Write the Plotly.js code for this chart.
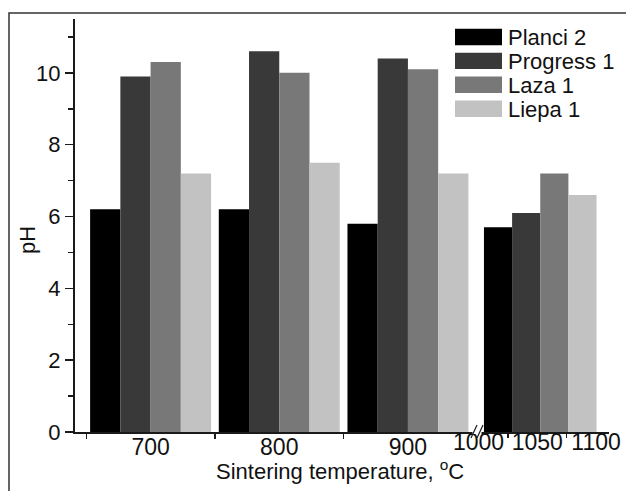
<!DOCTYPE html>
<html>
<head>
<meta charset="utf-8">
<script src="https://cdn.plot.ly/plotly-3.0.1.min.js"></script>
<style>html,body{margin:0;padding:0;background:#fff;}#chart{width:626px;height:491px;}</style>
</head>
<body>
<div id="chart"></div>
<script>
// ---- data ----
const temperatures = ['700', '800', '900', '1050'];
const rightTickLabels = ['1000', '1050', '1100'];
const seriesNames = ['Planci 2', 'Progress 1', 'Laza 1', 'Liepa 1'];
const planci2   = [6.2, 6.2, 5.8, 5.7];
const progress1 = [9.9, 10.6, 10.4, 6.1];
const laza1     = [10.3, 10.0, 10.1, 7.2];
const liepa1    = [7.2, 7.5, 7.2, 6.6];
const seriesColors = ['#000000', '#393939', '#787878', '#c2c2c2'];
const xTitle = 'Sintering temperature, <sup>o</sup>C';
const yTitle = 'pH';

const allSeries = [planci2, progress1, laza1, liepa1];
const FONT = 'Liberation Sans, Arial, sans-serif';
const AX = '#1a1a1a';
const TXT = '#111';

const traces = [];
allSeries.forEach((vals, i) => {
  // before the axis break
  traces.push({
    type: 'bar', name: seriesNames[i], legendgroup: seriesNames[i], showlegend: false,
    x: temperatures.slice(0, 3), y: vals.slice(0, 3),
    xaxis: 'x', yaxis: 'y',
    marker: {color: seriesColors[i], line: {width: 0}},
    hoverinfo: 'x+y+name'
  });
});
allSeries.forEach((vals, i) => {
  // after the axis break
  traces.push({
    type: 'bar', name: seriesNames[i], legendgroup: seriesNames[i], showlegend: false,
    x: temperatures.slice(3), y: vals.slice(3),
    xaxis: 'x2', yaxis: 'y',
    marker: {color: seriesColors[i], line: {width: 0}},
    hoverinfo: 'x+y+name'
  });
});
// carrier for the tick labels of the broken part of the axis (invisible)
traces.push({
  type: 'scatter', mode: 'markers', x: rightTickLabels, y: [0, 0, 0],
  xaxis: 'x3', yaxis: 'y', marker: {opacity: 0}, hoverinfo: 'skip', showlegend: false
});

const dL = 0.7425;
const L = 75, R = 609, T = 19, B = 432;
const px = v => (v - L) / (R - L);
const py = v => (B - v) / (B - T);

// legend (drawn from seriesNames / seriesColors)
const legShapes = [], legAnn = [];
seriesNames.forEach((nm, i) => {
  const cy = 37 + 23.9 * i;
  legShapes.push({type: 'rect', xref: 'paper', yref: 'paper',
    x0: px(455), x1: px(502), y0: py(cy + 8.2), y1: py(cy - 8.2),
    line: {width: 0}, fillcolor: seriesColors[i], layer: 'above'});
  legAnn.push({xref: 'paper', yref: 'paper', x: px(506), y: py(cy + 0.5),
    xanchor: 'left', yanchor: 'middle', showarrow: false, text: nm,
    font: {family: FONT, size: 22, color: TXT}});
});

const layout = {
  width: 626, height: 491,
  margin: {l: L, r: 626 - R, t: T, b: 491 - B},
  paper_bgcolor: '#fff', plot_bgcolor: '#fff',
  font: {family: FONT, color: TXT, size: 22},
  barmode: 'group', bargap: 0.06, bargroupgap: 0,
  showlegend: false,
  xaxis: {
    domain: [0, dL], anchor: 'y', type: 'category',
    range: [-0.5875, 2.494], tickson: 'boundaries',
    ticks: 'outside', ticklen: 5, tickwidth: 1.5, tickcolor: AX,
    ticklabelstandoff: -6, tickangle: 0,
    showline: true, linecolor: AX, linewidth: 1.6,
    showgrid: false, zeroline: false,
    tickfont: {family: FONT, size: 23, color: TXT}
  },
  xaxis2: {
    domain: [dL, 1], anchor: 'y', type: 'category',
    range: [-0.574, 0.574], showticklabels: false, ticks: '',
    showline: true, linecolor: AX, linewidth: 1.6,
    showgrid: false, zeroline: false
  },
  xaxis3: {
    overlaying: 'x2', anchor: 'y', type: 'category',
    categoryarray: rightTickLabels, categoryorder: 'array',
    range: [-0.119, 2.22], tickson: 'boundaries',
    ticks: 'outside', ticklen: 5, tickwidth: 1.5, tickcolor: AX,
    ticklabelstandoff: -6, tickangle: 0,
    showline: false, showgrid: false, zeroline: false,
    tickfont: {family: FONT, size: 23, color: TXT}
  },
  yaxis: {
    domain: [0, 1], anchor: 'x', range: [0, 11.5], tick0: 0, dtick: 2,
    ticks: 'outside', ticklen: 8, tickwidth: 1.5, tickcolor: AX,
    minor: {dtick: 1, ticks: 'outside', ticklen: 5, tickwidth: 1.5, tickcolor: AX, showgrid: false},
    showline: true, linecolor: AX, linewidth: 2,
    showgrid: false, zeroline: false,
    tickfont: {family: FONT, size: 22, color: TXT}
  },
  annotations: [{
    xref: 'paper', yref: 'paper', x: px(340), y: py(470),
    xanchor: 'center', yanchor: 'middle', showarrow: false,
    text: xTitle,
    font: {family: FONT, size: 22, color: TXT}
  }, {
    xref: 'paper', yref: 'paper', x: px(27), y: py(240),
    xanchor: 'center', yanchor: 'middle', showarrow: false, textangle: -90,
    text: yTitle,
    font: {family: FONT, size: 22, color: TXT}
  }].concat(legAnn),
  shapes: [
    {type: 'rect', xref: 'paper', yref: 'paper', x0: px(9), x1: 1.2, y0: -0.4, y1: py(13),
     line: {color: '#333', width: 1.5}, fillcolor: 'rgba(0,0,0,0)', layer: 'below'},
    {type: 'rect', xref: 'paper', yref: 'paper', x0: px(472.5), x1: px(481.5), y0: py(434), y1: py(430),
     line: {width: 0}, fillcolor: '#fff', layer: 'above'},
    {type: 'line', xref: 'paper', yref: 'paper', x0: px(471), y0: py(438), x1: px(477), y1: py(425),
     line: {color: AX, width: 1.2}, layer: 'above'},
    {type: 'line', xref: 'paper', yref: 'paper', x0: px(477), y0: py(438), x1: px(483), y1: py(425),
     line: {color: AX, width: 1.2}, layer: 'above'}
  ].concat(legShapes)
};

Plotly.newPlot('chart', traces, layout, {displayModeBar: false, staticPlot: true});
</script>
</body>
</html>
